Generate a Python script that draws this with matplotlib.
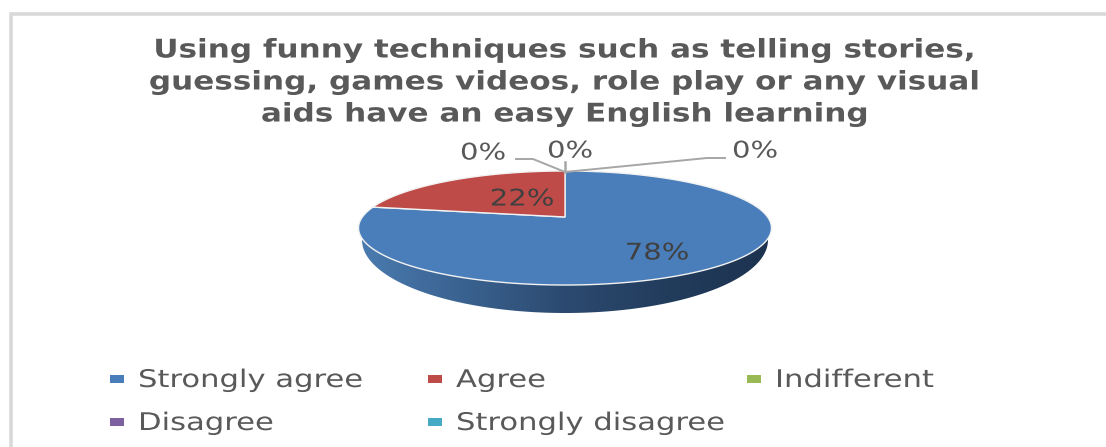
import numpy as np
import matplotlib
matplotlib.use("Agg")
import matplotlib.pyplot as plt
from matplotlib.colors import LinearSegmentedColormap
from matplotlib.patches import Polygon, Rectangle
from matplotlib.patheffects import AbstractPathEffect
from matplotlib.transforms import Affine2D

title = "Using funny techniques such as telling stories,\nguessing, games videos, role play or any visual\naids have an easy English learning"
categories = ["Strongly agree", "Agree", "Indifferent", "Disagree", "Strongly disagree"]
values = [78, 22, 0, 0, 0]
colors = ["#4a7ebb", "#be4b48", "#98b954", "#7d60a0", "#46aac5"]

CX, CY = 565, 217
RX, RY, TILT = 202.6, 54.9, 0.193
GREY = "#595959"


class WideText(AbstractPathEffect):
    # widens glyphs horizontally around a fixed x (pixels)
    def __init__(self, x0, sx):
        super().__init__()
        self.x0 = x0
        self.sx = sx

    def draw_path(self, renderer, gc, tpath, affine, rgbFace=None):
        wide = affine + Affine2D().translate(-self.x0, 0).scale(self.sx, 1).translate(self.x0, 0)
        renderer.draw_path(gc, tpath, wide, rgbFace)


def tilted(theta):
    # clockwise angle from 12 o'clock -> position on the tilted disc
    u, v = np.sin(theta), np.cos(theta)
    d = 1 + TILT * v
    return CX + RX * u / d, CY - RY * v / d


fig = plt.figure(figsize=(11.06, 4.47), dpi=100)
ax = fig.add_axes([0, 0, 1, 1])
ax.set_xlim(0, 1106)
ax.set_ylim(447, 0)
ax.axis("off")

# chart frame, only top and left edges show
ax.plot([10.5, 10.5, 1106], [447, 13.5, 13.5], color="#d9d9d9", lw=2.6, solid_joinstyle="miter")

# side of the pie
t = np.linspace(0, np.pi, 200)
rim_x = CX + 203 * np.cos(t)
rim_y = 240 + 73 * np.sin(t)
side = Polygon(np.column_stack([rim_x, rim_y]), closed=True, fc="none", ec="none")
ax.add_patch(side)
ramp = LinearSegmentedColormap.from_list("side", ["#4a7bb0", "#3a6290", "#2c4a70", "#223c5c", "#1d3350"])
img = ax.imshow(np.linspace(0, 1, 256)[None, :], extent=[360, 770, 320, 225], cmap=ramp, aspect="auto", zorder=1)
img.set_clip_path(side)
ax.set_xlim(0, 1106)
ax.set_ylim(447, 0)

# slices, clockwise from the top
edges = np.cumsum([0] + values) / sum(values) * 2 * np.pi
for i, v in enumerate(values):
    if v == 0:
        continue
    th = np.linspace(edges[i], edges[i + 1], 200)
    x, y = tilted(th)
    ax.fill(np.r_[CX, x], np.r_[CY, y], color=colors[i], ec="#f2f2f2", lw=1.0, zorder=2)

# leader lines of the empty slices
ax.plot([565, 533, 516], [172, 159, 159], color="#a6a6a6", lw=1.4, zorder=3)
ax.plot([565, 565], [172, 162], color="#a6a6a6", lw=1.8, zorder=3)
ax.plot([565, 707, 725], [172, 158, 158], color="#a6a6a6", lw=1.4, zorder=3)

label_pos = [(657, 253), (522, 199), (483, 153), (570, 151), (755, 151)]
for v, (lx, ly) in zip(values, label_pos):
    ax.text(lx, ly, f"{v}%", ha="center", va="center", fontsize=16.5, color="#404040" if v else GREY,
            zorder=4, path_effects=[WideText(lx, 1.27)])

ax.text(565, 82.5, title, ha="center", va="center", fontsize=18.5, fontweight="bold",
        color=GREY, linespacing=1.3, path_effects=[WideText(565, 1.21)])

# legend
legend_pos = [(110, 379), (428, 379), (747, 379), (110, 422), (428, 422)]
for name, col, (lx, ly) in zip(categories, colors, legend_pos):
    ax.add_patch(Rectangle((lx, ly - 4), 14, 8, fc=col, ec="none"))
    ax.text(lx + 28, ly + 1, name, ha="left", va="center", fontsize=17.5, color=GREY,
            path_effects=[WideText(lx + 28, 1.26)])

fig.savefig("out.png", dpi=100, facecolor="white")
